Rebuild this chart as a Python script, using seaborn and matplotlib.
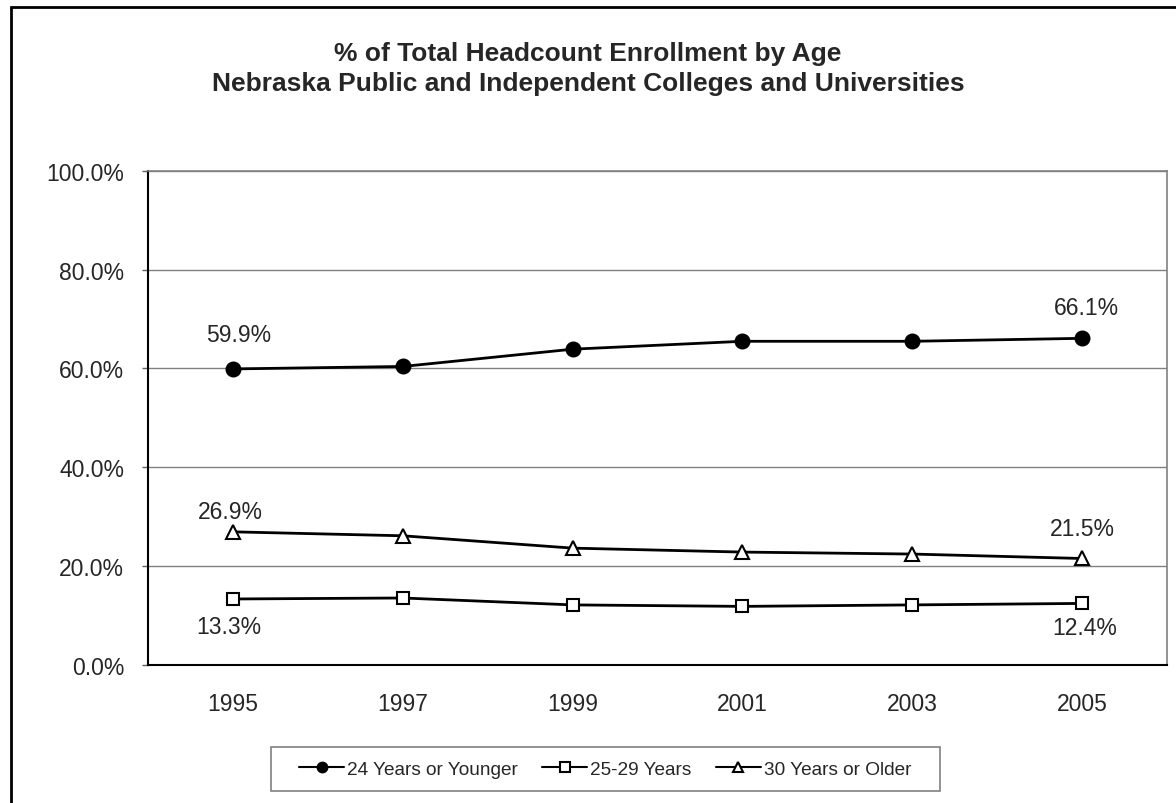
import numpy as np
import pandas as pd
import matplotlib
matplotlib.use('Agg')
import matplotlib.pyplot as plt
from matplotlib.patches import Rectangle
from matplotlib.ticker import FixedLocator, FuncFormatter
import seaborn as sns

# data
years = ['1995', '1997', '1999', '2001', '2003', '2005']
under_25 = [59.9, 60.4, 63.9, 65.5, 65.5, 66.1]
age_25_29 = [13.3, 13.5, 12.1, 11.8, 12.1, 12.4]
over_30 = [26.9, 26.1, 23.6, 22.8, 22.4, 21.5]
series_names = ['24 Years or Younger', '25-29 Years', '30 Years or Older']

sns.set_style('white')
plt.rcParams['font.family'] = ['Liberation Sans', 'DejaVu Sans']

fig = plt.figure(figsize=(11.76, 8.04), dpi=100)
ax = fig.add_axes([0.1259, 0.1721, 0.8665, 0.6140])

styles = [
    (under_25, 'o', 'black', 10),
    (age_25_29, 's', 'white', 9),
    (over_30, '^', 'white', 10),
]
for name, (vals, mk, fc, ms) in zip(series_names, styles):
    sns.lineplot(x=years, y=vals, ax=ax, color='black', linewidth=2,
                 marker=mk, markersize=ms, markerfacecolor=fc,
                 markeredgecolor='black', markeredgewidth=1.5, label=name)

# data labels on first and last points
lab_font = dict(fontsize=16.5, ha='center', va='center')
ax.annotate(f'{under_25[0]}%', (0, under_25[0]), xytext=(4, 25), textcoords='offset points', **lab_font)
ax.annotate(f'{under_25[-1]}%', (5, under_25[-1]), xytext=(3, 22), textcoords='offset points', **lab_font)
ax.annotate(f'{over_30[0]}%', (0, over_30[0]), xytext=(-2, 14.5), textcoords='offset points', **lab_font)
ax.annotate(f'{over_30[-1]}%', (5, over_30[-1]), xytext=(0, 21.5), textcoords='offset points', **lab_font)
ax.annotate(f'{age_25_29[0]}%', (0, age_25_29[0]), xytext=(-3, -20), textcoords='offset points', **lab_font)
ax.annotate(f'{age_25_29[-1]}%', (5, age_25_29[-1]), xytext=(2, -17), textcoords='offset points', **lab_font)

ax.set_xlim(-0.5, 5.5)
ax.set_ylim(0, 100)
ax.set_yticks(np.arange(0, 101, 20))
ax.yaxis.set_major_formatter(FuncFormatter(lambda v, p: f'{v:.1f}%'))
ax.yaxis.grid(True, color='#808080', linewidth=1)
ax.set_axisbelow(True)
ax.xaxis.set_minor_locator(FixedLocator(np.arange(-0.5, 6, 1)))
ax.tick_params(axis='x', which='major', length=0, labelsize=16.5, pad=20)
ax.tick_params(axis='x', which='minor', length=4.3, width=1, color='#606060', direction='out')
ax.tick_params(axis='y', which='major', length=4.3, width=1, color='#606060', direction='out',
               labelsize=16.5, pad=13, left=True)
ax.set_xlabel('')
ax.set_ylabel('')

for side in ['left', 'bottom']:
    ax.spines[side].set_color('black')
    ax.spines[side].set_linewidth(1.5)
for side in ['top', 'right']:
    ax.spines[side].set_color('#808080')
    ax.spines[side].set_linewidth(1.2)

fig.text(0.5, 0.914, '% of Total Headcount Enrollment by Age\nNebraska Public and Independent Colleges and Universities',
         ha='center', va='center', fontsize=19, fontweight='bold', linespacing=1.32)

leg = ax.legend(loc='center left', bbox_to_anchor=(0.2432, 0.0417), bbox_transform=fig.transFigure,
                ncol=3, frameon=False, fontsize=13.7, handlelength=2.37,
                handletextpad=0.16, columnspacing=1.26, borderpad=0.7, borderaxespad=0)
for h in leg.legend_handles:
    h.set_markersize(7)
    h.set_linewidth(1.5)

# legend frame: the legend's own extent widened a little on both sides
fig.canvas.draw()
bb = leg.get_window_extent()
fig.patches.append(Rectangle((bb.x0 - 15, bb.y0), bb.width + 30, bb.height, transform=None,
                             fill=False, edgecolor='#808080', linewidth=1.2))

# outer chart border
fig.patches.append(Rectangle((0.0094, -0.05), 1.1, 1.04, transform=fig.transFigure,
                             fill=False, edgecolor='black', linewidth=2))

fig.savefig('out.png', dpi=100)
